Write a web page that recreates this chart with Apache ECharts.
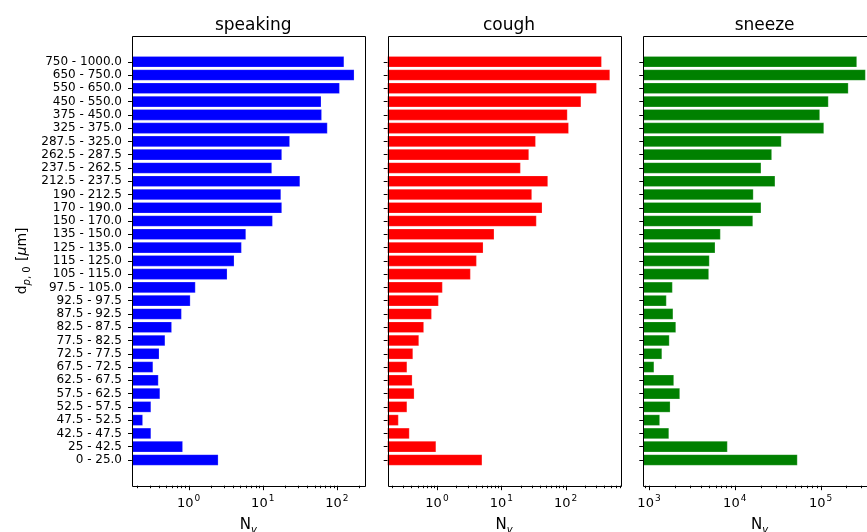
<!DOCTYPE html>
<html>
<head>
<meta charset="utf-8">
<script src="https://cdn.jsdelivr.net/npm/echarts@6/dist/echarts.min.js"></script>
<style>
  html, body { margin: 0; padding: 0; background: #ffffff; }
  #chart { width: 867px; height: 532px; }
</style>
</head>
<body>
<div id="chart"></div>
<script>
// Droplet size bins (bottom to top), in micrometres
const sizeBins = [
  '0 - 25.0', '25 - 42.5', '42.5 - 47.5', '47.5 - 52.5', '52.5 - 57.5',
  '57.5 - 62.5', '62.5 - 67.5', '67.5 - 72.5', '72.5 - 77.5', '77.5 - 82.5',
  '82.5 - 87.5', '87.5 - 92.5', '92.5 - 97.5', '97.5 - 105.0', '105 - 115.0',
  '115 - 125.0', '125 - 135.0', '135 - 150.0', '150 - 170.0', '170 - 190.0',
  '190 - 212.5', '212.5 - 237.5', '237.5 - 262.5', '262.5 - 287.5', '287.5 - 325.0',
  '325 - 375.0', '375 - 450.0', '450 - 550.0', '550 - 650.0', '650 - 750.0',
  '750 - 1000.0'
];

// Droplet counts N_v per bin, same order as sizeBins
const speaking = [
  2.5, 0.83, 0.31, 0.24, 0.31,
  0.41, 0.39, 0.33, 0.40, 0.48,
  0.59, 0.80, 1.05, 1.23, 3.3,
  4.1, 5.15, 5.9, 13.5, 18,
  17.5, 31.6, 13.2, 18, 23,
  74, 62, 61, 108, 170,
  124
];
const cough = [
  5.0, 0.96, 0.37, 0.25, 0.34,
  0.44, 0.41, 0.34, 0.42, 0.52,
  0.62, 0.82, 1.05, 1.21, 3.3,
  4.1, 5.2, 7.7, 35, 43,
  29.7, 52.7, 19.8, 26.7, 34,
  111, 106, 173, 302, 486,
  361
];
const sneeze = [
  53500, 8180, 1700, 1330, 1760,
  2280, 1940, 1140, 1410, 1720,
  2050, 1900, 1590, 1870, 4960,
  5040, 5880, 6780, 16200, 20200,
  16400, 29400, 20200, 26900, 34800,
  109000, 97700, 123000, 210000, 333000,
  264000
];

const panelTitles = ['speaking', 'cough', 'sneeze'];
const panelColors = ['#0000ff', '#ff0000', '#008000'];
const panelValues = [speaking, cough, sneeze];

// ---- layout ----
const FONT = 'DejaVu Sans';
const frameLefts = [132, 387.7, 643.3];
const frameW = 232.6;
const frameTop = 36;
const frameH = 449.7;
const frameBottom = frameTop + frameH;
const n = sizeBins.length;
const edgeUnits = 1.44;                      // empty space above/below the outer bars, in bar slots
const unit = frameH / (n + 2 * edgeUnits);
const gridTop = frameTop + edgeUnits * unit;
const gridH = n * unit;
const axisOffset = frameBottom - (gridTop + gridH);

// log-axis limits padded by 5% of the data span (in decades)
function logLimits(vals) {
  const lo = Math.log10(Math.min.apply(null, vals));
  const hi = Math.log10(Math.max.apply(null, vals));
  const pad = 0.05 * (hi - lo);
  return [Math.pow(10, lo - pad), Math.pow(10, hi + pad)];
}

// major + minor tick values inside [min, max]
function logTicks(min, max) {
  const out = [];
  for (let e = Math.floor(Math.log10(min)); e <= Math.ceil(Math.log10(max)); e++) {
    for (let m = 1; m <= 9; m++) {
      const v = m * Math.pow(10, e);
      if (v >= min && v <= max) out.push([v, 0, m === 1 ? 1 : 0]);
    }
  }
  return out;
}

const grids = [], xAxes = [], yAxes = [], series = [], titles = [], graphics = [];

panelValues.forEach((vals, i) => {
  const left = frameLefts[i];
  const lim = logLimits(vals);

  grids.push({
    left: left, top: gridTop, width: frameW, height: gridH,
    containLabel: false,
    outerBoundsMode: 'none'
  });

  titles.push({
    text: panelTitles[i],
    left: left + frameW / 2,
    top: 12,
    textAlign: 'center',
    textStyle: { fontFamily: FONT, fontSize: 17, fontWeight: 'normal', color: '#000' }
  });

  xAxes.push({
    type: 'log',
    gridIndex: i,
    min: lim[0],
    max: lim[1],
    offset: axisOffset,
    axisLine: { show: false },
    axisTick: { show: false },
    splitLine: { show: false },
    minorSplitLine: { show: false },
    axisLabel: {
      margin: 9,
      showMinLabel: false,
      showMaxLabel: false,
      formatter: function (v) {
        const e = Math.log10(v);
        const r = Math.round(e);
        if (Math.abs(e - r) > 1e-6) return '';
        return '{b|10}{s|' + r + '}';
      },
      rich: {
        b: { fontFamily: FONT, fontSize: 13, color: '#000', verticalAlign: 'bottom', lineHeight: 15 },
        s: { fontFamily: FONT, fontSize: 9, color: '#000', verticalAlign: 'bottom', lineHeight: 9, padding: [0, 0, 7, 1] }
      }
    },
    name: '{n|N}{v|v}',
    nameLocation: 'middle',
    nameGap: 30,
    nameTextStyle: {
      rich: {
        n: { fontFamily: FONT, fontSize: 15, color: '#000', verticalAlign: 'bottom', lineHeight: 17 },
        v: { fontFamily: FONT, fontSize: 10, fontStyle: 'italic', color: '#000', verticalAlign: 'bottom', lineHeight: 10, padding: [0, 0, -3, 0] }
      }
    }
  });

  yAxes.push({
    type: 'category',
    gridIndex: i,
    data: sizeBins,
    axisLine: { show: false },
    axisTick: { show: true, alignWithLabel: true, length: 4, interval: 0, lineStyle: { color: '#000', width: 1 } },
    splitLine: { show: false },
    axisLabel: {
      show: i === 0,
      interval: 0,
      margin: 10,
      fontFamily: FONT,
      fontSize: 12,
      color: '#000'
    },
    name: i === 0 ? '{a|d}{si|p}{sb|, 0}{a| [}{it|μ}{a|m]}' : '',
    nameLocation: 'middle',
    nameRotate: 90,
    nameGap: 103,
    nameTextStyle: {
      rich: {
        a: { fontFamily: FONT, fontSize: 14, color: '#000', verticalAlign: 'bottom', lineHeight: 16 },
        it: { fontFamily: FONT, fontSize: 14, fontStyle: 'italic', color: '#000', verticalAlign: 'bottom', lineHeight: 16 },
        si: { fontFamily: FONT, fontSize: 10, fontStyle: 'italic', color: '#000', verticalAlign: 'bottom', lineHeight: 10, padding: [0, 0, -3, 0] },
        sb: { fontFamily: FONT, fontSize: 10, color: '#000', verticalAlign: 'bottom', lineHeight: 10, padding: [0, 1, -3, 0] }
      }
    }
  });

  // horizontal bars, drawn from the left edge of the plot to each value
  const color = panelColors[i];
  series.push({
    type: 'custom',
    xAxisIndex: i,
    yAxisIndex: i,
    encode: { x: 0, y: 1 },
    data: vals.map((v, k) => [v, k]),
    renderItem: function (params, api) {
      const cs = params.coordSys;
      const end = api.coord([api.value(0), api.value(1)]);
      const h = (cs.height / n) * 0.8;
      return {
        type: 'rect',
        shape: { x: cs.x, y: end[1] - h / 2, width: end[0] - cs.x, height: h },
        style: { fill: color, stroke: 'rgba(255,255,255,0.35)', lineWidth: 0.6 }
      };
    },
    z: 2
  });

  // log-axis major/minor ticks below the frame
  series.push({
    type: 'custom',
    xAxisIndex: i,
    yAxisIndex: i,
    encode: { x: 0, y: 1 },
    data: logTicks(lim[0], lim[1]),
    silent: true,
    renderItem: function (params, api) {
      const x = Math.round(api.coord([api.value(0), 0])[0]) + 0.5;
      const len = api.value(2) ? 4.5 : 2.5;
      return {
        type: 'line',
        shape: { x1: x, y1: frameBottom, x2: x, y2: frameBottom + len },
        style: { stroke: '#000', lineWidth: 1 }
      };
    },
    z: 3
  });

  // panel frame
  graphics.push({
    type: 'rect',
    shape: { x: Math.round(left) + 0.5, y: frameTop + 0.5, width: Math.round(frameW), height: Math.round(frameH) },
    style: { fill: null, stroke: '#000', lineWidth: 1 },
    z: 10
  });
});

const chart = echarts.init(document.getElementById('chart'), null, { renderer: 'canvas' });
chart.setOption({
  backgroundColor: '#ffffff',
  animation: false,
  title: titles,
  grid: grids,
  xAxis: xAxes,
  yAxis: yAxes,
  series: series,
  graphic: graphics
});
</script>
</body>
</html>
